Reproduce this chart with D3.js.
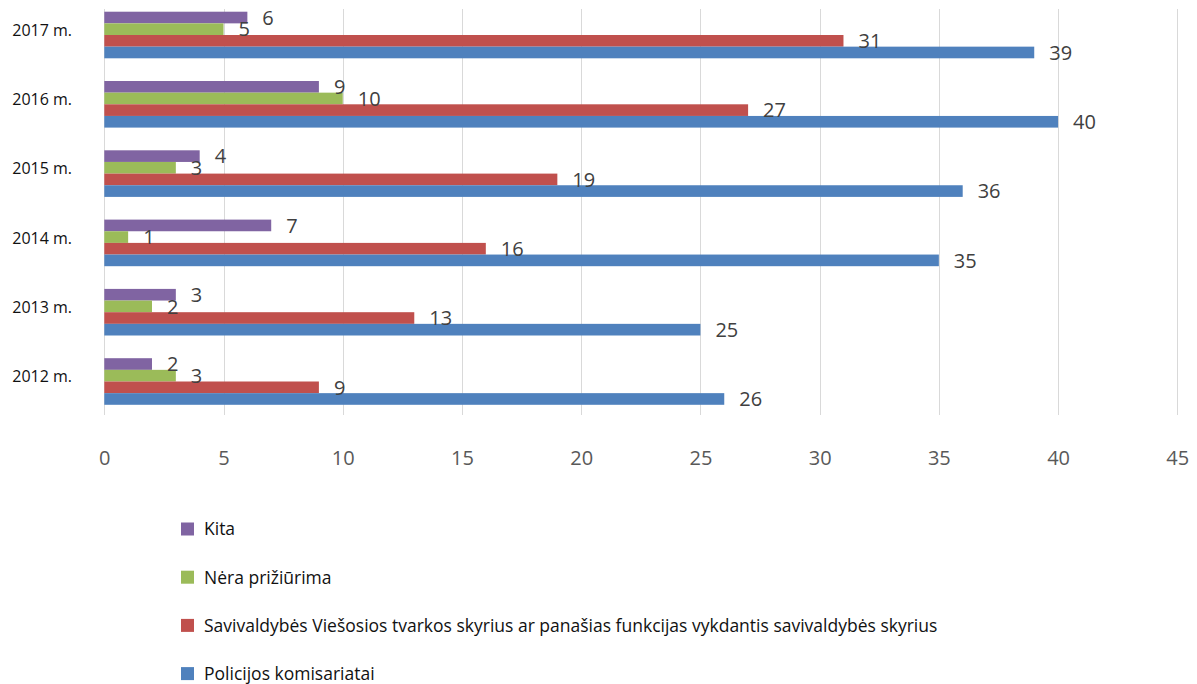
<!DOCTYPE html>
<html>
<head>
<meta charset="utf-8">
<script src="https://cdn.jsdelivr.net/npm/d3@7"></script>
<style>
  html, body { margin: 0; padding: 0; background: #ffffff; }
  svg { display: block; }
</style>
</head>
<body>
<svg id="chart" width="1197" height="684"></svg>
<script>
// ---- Data ----
const categories = ["2017 m.", "2016 m.", "2015 m.", "2014 m.", "2013 m.", "2012 m."];
const seriesNames = [
  "Kita",
  "Nėra prižiūrima",
  "Savivaldybės Viešosios tvarkos skyrius ar panašias funkcijas vykdantis savivaldybės skyrius",
  "Policijos komisariatai"
];
const kita        = [6, 9, 4, 7, 3, 2];
const neraPriziur = [5, 10, 3, 1, 2, 3];
const savivaldybe = [31, 27, 19, 16, 13, 9];
const policija    = [39, 40, 36, 35, 25, 26];
const xTicks = [0, 5, 10, 15, 20, 25, 30, 35, 40, 45];
const colors = ["#8064A2", "#9BBB59", "#C0504D", "#4F81BD"];

const seriesValues = [kita, neraPriziur, savivaldybe, policija];

// ---- Layout ----
const svg = d3.select("#chart");
const x = d3.scaleLinear().domain([0, 45]).range([104.3, 1177.3]);
const y = d3.scaleBand().domain(categories).range([0.35, 416.15])
  .paddingInner(0.3276).paddingOuter(0.1638);
const ySub = d3.scaleBand().domain(seriesNames).range([0, y.bandwidth()]);

// gridlines
svg.append("g").selectAll("line").data(xTicks).join("line")
  .attr("x1", d => Math.round(x(d)) + 0.5).attr("x2", d => Math.round(x(d)) + 0.5)
  .attr("y1", 9).attr("y2", 415)
  .attr("stroke", "#d9d9d9").attr("stroke-width", 1);

// bars
const groups = svg.append("g").selectAll("g").data(seriesNames).join("g")
  .attr("fill", (d, i) => colors[i]);
groups.each(function (name, si) {
  d3.select(this).selectAll("rect").data(categories).join("rect")
    .attr("x", x(0))
    .attr("y", c => y(c) + ySub(name))
    .attr("width", (c, ci) => x(seriesValues[si][ci]) - x(0))
    .attr("height", ySub.bandwidth());
});

// data labels
const labFont = "'Open Sans', 'Noto Sans', sans-serif";
seriesNames.forEach((name, si) => {
  svg.append("g").selectAll("text").data(categories).join("text")
    .attr("x", (c, ci) => x(seriesValues[si][ci]) + 15)
    .attr("y", c => y(c) + ySub(name) + ySub.bandwidth() / 2)
    .attr("dy", "0.36em")
    .attr("font-family", labFont).attr("font-size", 20)
    .attr("fill", "#404040")
    .text((c, ci) => seriesValues[si][ci]);
});

// x axis labels
const xAxis = d3.axisBottom(x).tickValues(xTicks).tickSize(0).tickPadding(0);
const gx = svg.append("g").attr("transform", "translate(0,451)").call(xAxis);
gx.select(".domain").remove();
gx.selectAll("text")
  .attr("font-family", labFont).attr("font-size", 20)
  .attr("fill", "#595959").attr("dy", "0.36em").attr("y", 7);

// y axis labels
const yAxis = d3.axisLeft(y).tickSize(0).tickPadding(0);
const gy = svg.append("g").attr("transform", "translate(72,0)").call(yAxis);
gy.select(".domain").remove();
gy.selectAll("text")
  .attr("font-family", labFont).attr("font-size", 16)
  .attr("fill", "#111111").attr("x", 0).attr("dy", "0.36em")
  .attr("transform", "translate(0,-5)");

// legend
const legend = svg.append("g").selectAll("g").data(seriesNames).join("g")
  .attr("transform", (d, i) => `translate(181,${529 + i * 48.2})`);
legend.append("rect")
  .attr("x", 0).attr("y", -6.5).attr("width", 13).attr("height", 13)
  .attr("fill", (d, i) => colors[i]);
legend.append("text")
  .attr("x", 23).attr("y", 0).attr("dy", "0.36em")
  .attr("font-family", labFont).attr("font-size", 17.5)
  .attr("fill", "#111111")
  .text(d => d);
</script>
</body>
</html>
